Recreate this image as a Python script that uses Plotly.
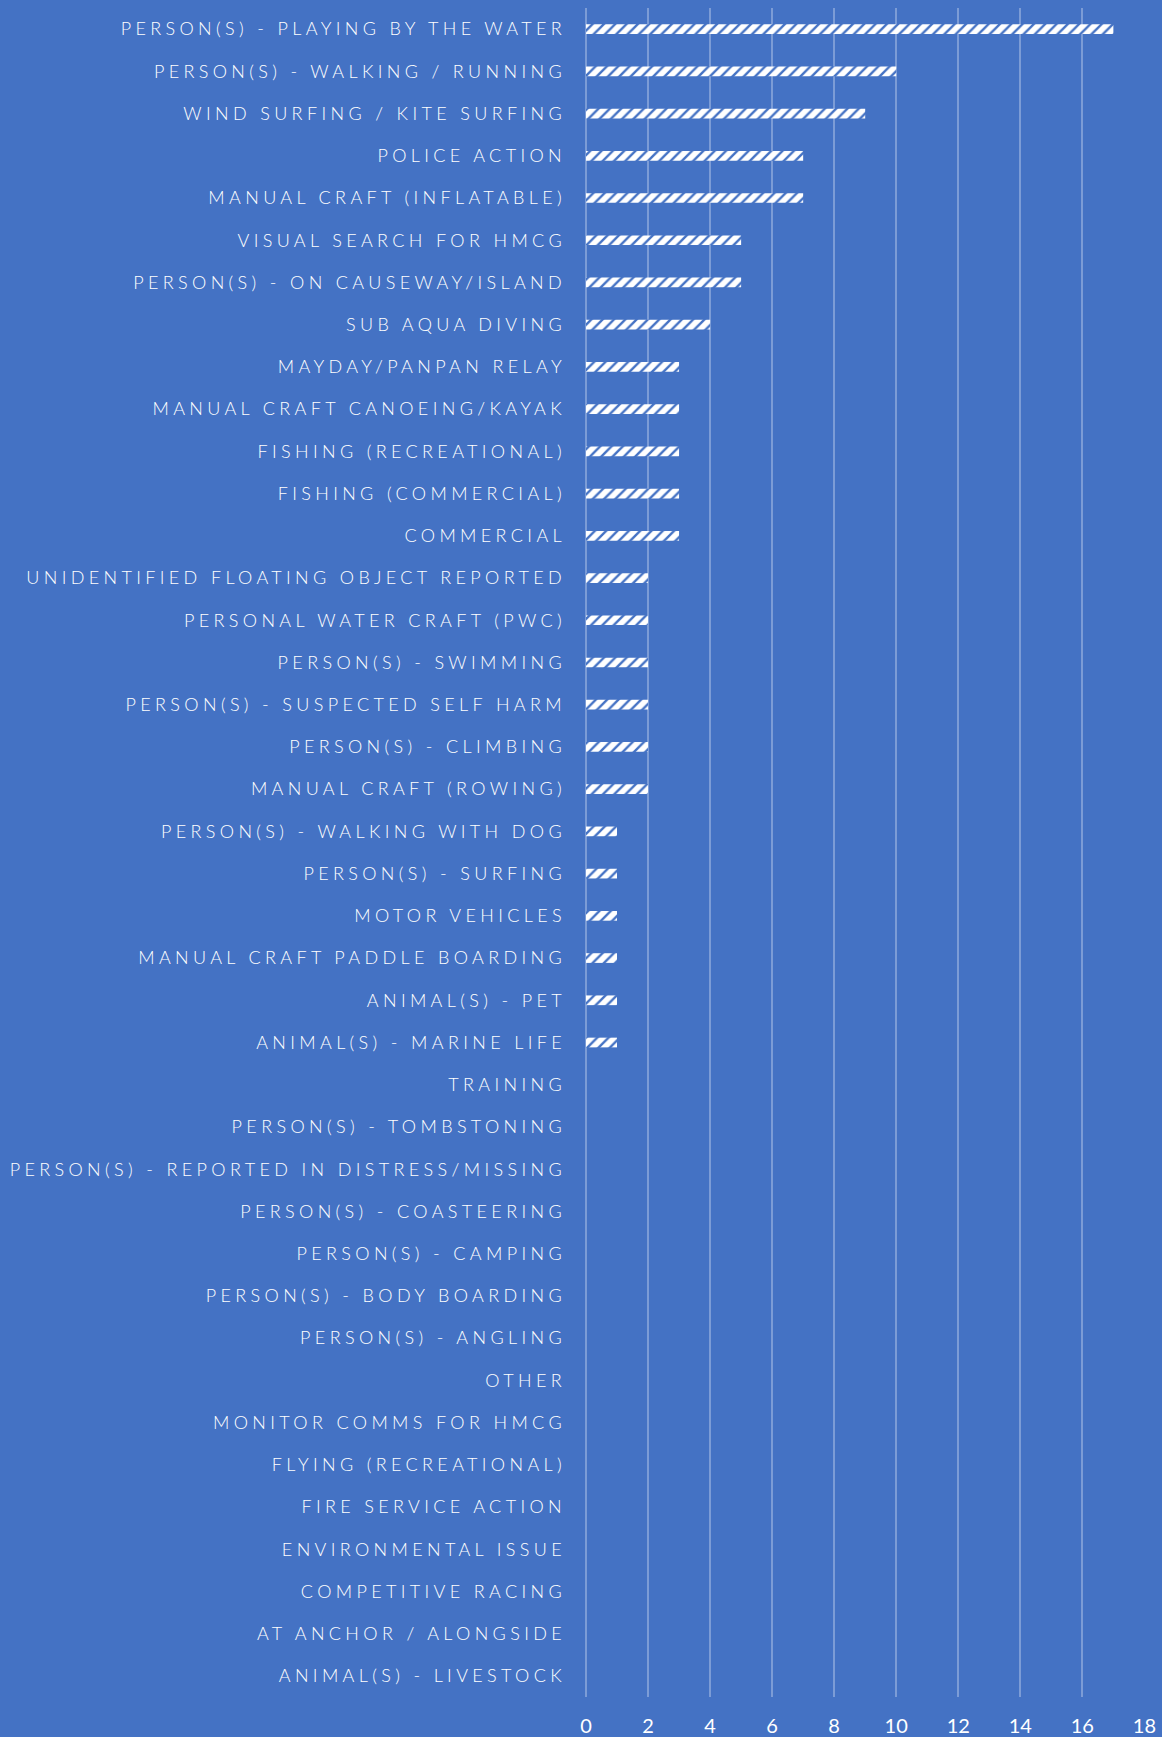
import plotly.graph_objects as go

categories = [
    "PERSON(S) - PLAYING BY THE WATER",
    "PERSON(S) - WALKING / RUNNING",
    "WIND SURFING / KITE SURFING",
    "POLICE ACTION",
    "MANUAL CRAFT (INFLATABLE)",
    "VISUAL SEARCH FOR HMCG",
    "PERSON(S) - ON CAUSEWAY/ISLAND",
    "SUB AQUA DIVING",
    "MAYDAY/PANPAN RELAY",
    "MANUAL CRAFT CANOEING/KAYAK",
    "FISHING (RECREATIONAL)",
    "FISHING (COMMERCIAL)",
    "COMMERCIAL",
    "UNIDENTIFIED FLOATING OBJECT REPORTED",
    "PERSONAL WATER CRAFT (PWC)",
    "PERSON(S) - SWIMMING",
    "PERSON(S) - SUSPECTED SELF HARM",
    "PERSON(S) - CLIMBING",
    "MANUAL CRAFT (ROWING)",
    "PERSON(S) - WALKING WITH DOG",
    "PERSON(S) - SURFING",
    "MOTOR VEHICLES",
    "MANUAL CRAFT PADDLE BOARDING",
    "ANIMAL(S) - PET",
    "ANIMAL(S) - MARINE LIFE",
    "TRAINING",
    "PERSON(S) - TOMBSTONING",
    "PERSON(S) - REPORTED IN DISTRESS/MISSING",
    "PERSON(S) - COASTEERING",
    "PERSON(S) - CAMPING",
    "PERSON(S) - BODY BOARDING",
    "PERSON(S) - ANGLING",
    "OTHER",
    "MONITOR COMMS FOR HMCG",
    "FLYING (RECREATIONAL)",
    "FIRE SERVICE ACTION",
    "ENVIRONMENTAL ISSUE",
    "COMPETITIVE RACING",
    "AT ANCHOR / ALONGSIDE",
    "ANIMAL(S) - LIVESTOCK",
]
values = [17, 10, 9, 7, 7, 5, 5, 4, 3, 3, 3, 3, 3, 2, 2, 2, 2, 2, 2,
          1, 1, 1, 1, 1, 1, 0, 0, 0, 0, 0, 0, 0, 0, 0, 0, 0, 0, 0, 0, 0]
x_ticks = [0, 2, 4, 6, 8, 10, 12, 14, 16, 18]

BLUE = "#4472C4"
GRID = "rgba(255,255,255,0.3)"

fig = go.Figure(
    go.Bar(
        x=values,
        y=categories,
        orientation="h",
        width=0.23,
        marker=dict(
            color="white",
            line=dict(width=0),
            pattern=dict(shape="/", fgcolor=BLUE, bgcolor="white",
                         size=8, solidity=0.3, fillmode="replace"),
        ),
        hoverinfo="x+y",
    )
)

fig.update_layout(
    width=1162,
    height=1737,
    paper_bgcolor=BLUE,
    plot_bgcolor=BLUE,
    margin=dict(l=586, r=17, t=8, b=40),
    showlegend=False,
    font=dict(family="Lato, 'Open Sans', sans-serif", color="white"),
    xaxis=dict(
        range=[0, 18.02],
        tickvals=x_ticks,
        ticktext=[str(v) for v in x_ticks],
        showgrid=True,
        gridcolor=GRID,
        gridwidth=2,
        zeroline=True,
        zerolinecolor=GRID,
        zerolinewidth=2,
        showline=False,
        tickfont=dict(size=20, color="white"),
        ticklabelstandoff=15,
        automargin=False,
        fixedrange=True,
    ),
    yaxis=dict(
        autorange="reversed",
        showgrid=False,
        zeroline=False,
        showline=False,
        tickfont=dict(size=18, color="white", weight=300),
        ticklabelstandoff=19,
        automargin=False,
        fixedrange=True,
    ),
)

post = """
document.body.style.margin='0';
function spaceLabels(){
  document.querySelectorAll('.ytick text').forEach(function(t){
    t.style.letterSpacing='4.35px';
  });
}
spaceLabels();
var gd=document.getElementById('{plot_id}');
gd.on('plotly_afterplot', spaceLabels);
"""

fig.write_html("out.html", post_script=post, config={"displayModeBar": False})
